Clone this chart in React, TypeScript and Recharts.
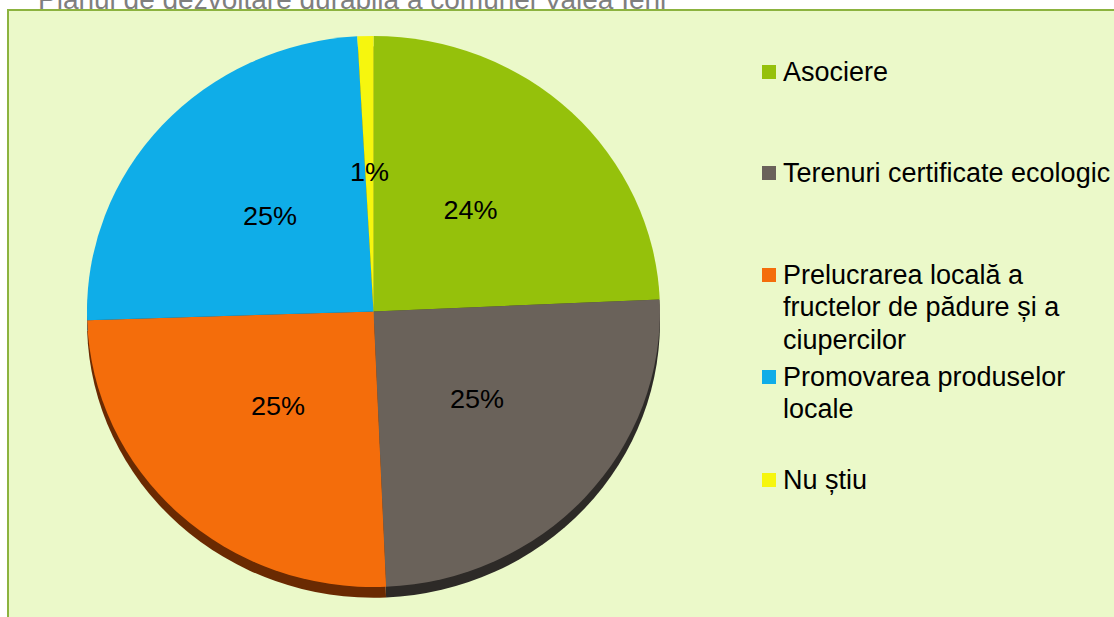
import React from 'react'
import { PieChart, Pie, Cell } from 'recharts'

const CATEGORIES = [
  'Asociere',
  'Terenuri certificate ecologic',
  'Prelucrarea locală a fructelor de pădure și a ciupercilor',
  'Promovarea produselor locale',
  'Nu știu',
]
// shares (labels show them rounded)
const VALUES = [24.3, 25.0, 25.2, 24.6, 0.9]
const COLORS = ['#95c10b', '#6a625a', '#f46d0b', '#0fade8', '#f6f60e']
const SHADES = ['#4a6004', '#2d2a27', '#6a2a02', '#06587a', '#7a7a06']
const LEGEND_LINES = [
  ['Asociere'],
  ['Terenuri certificate ecologic'],
  ['Prelucrarea locală a', 'fructelor de pădure și a', 'ciupercilor'],
  ['Promovarea produselor', 'locale'],
  ['Nu știu'],
]
const TITLE = 'Planul de dezvoltare durabilă a comunei Valea Ieni'

// layout: first-line centre of each legend entry
const LEGEND_TOPS = [72, 173, 275, 377, 480]
const LINE_H = 32.5

const RAD = Math.PI / 180
const CX = 373.5
const CY = 311.5
const R = 286.5
const SQUASH = 0.962

const data = CATEGORIES.map((name, i) => ({ name, value: VALUES[i] }))

const FONT = '"Liberation Sans", Arial, sans-serif'

function renderLabel(props: any) {
  const { cx, cy, midAngle, outerRadius, percent } = props
  const r = outerRadius * 0.49
  const x = cx + r * Math.cos(-midAngle * RAD)
  const y = cy + r * Math.sin(-midAngle * RAD) - 4
  return (
    <text
      x={x}
      y={y}
      textAnchor="middle"
      dominantBaseline="central"
      fontSize={27}
      fontFamily={FONT}
      fill="#000"
    >
      {`${Math.round(percent * 100)}%`}
    </text>
  )
}

export default function App() {
  return (
    <div
      style={{
        position: 'absolute',
        left: 0,
        top: 0,
        width: 1114,
        height: 617,
        overflow: 'hidden',
        background: '#ffffff',
        fontFamily: FONT,
      }}
    >
      <div
        style={{
          position: 'absolute',
          left: 38,
          top: -14.5,
          fontSize: 28,
          lineHeight: '28px',
          color: '#7f7f7f',
          whiteSpace: 'nowrap',
        }}
      >
        {TITLE}
      </div>
      <div
        style={{
          position: 'absolute',
          left: 7,
          top: 9,
          width: 1200,
          height: 700,
          border: '2px solid #8cb33f',
          background: '#ebf9c9',
        }}
      />
      <div
        style={{
          position: 'absolute',
          left: 0,
          top: 0,
          transform: `scaleY(${SQUASH})`,
          transformOrigin: `${CX}px ${CY}px`,
        }}
      >
        <PieChart width={760} height={617} margin={{ top: 0, right: 0, bottom: 0, left: 0 }}>
          <Pie
            data={data}
            dataKey="value"
            cx={CX}
            cy={CY + 11}
            outerRadius={R}
            startAngle={90}
            endAngle={-270}
            stroke="none"
            isAnimationActive={false}
          >
            {data.map((d, i) => (
              <Cell key={d.name} fill={SHADES[i]} />
            ))}
          </Pie>
          <Pie
            data={data}
            dataKey="value"
            cx={CX}
            cy={CY}
            outerRadius={R}
            startAngle={90}
            endAngle={-270}
            stroke="none"
            label={renderLabel}
            labelLine={false}
            isAnimationActive={false}
          >
            {data.map((d, i) => (
              <Cell key={d.name} fill={COLORS[i]} />
            ))}
          </Pie>
        </PieChart>
      </div>
      {LEGEND_LINES.map((lines, i) => (
        <div
          key={CATEGORIES[i]}
          style={{
            position: 'absolute',
            left: 762,
            top: LEGEND_TOPS[i] - LINE_H / 2,
            display: 'flex',
            alignItems: 'flex-start',
          }}
        >
          <span
            style={{
              width: 14,
              height: 14,
              marginTop: (LINE_H - 14) / 2,
              background: COLORS[i],
              marginRight: 7,
              flex: 'none',
            }}
          />
          <div style={{ fontSize: 27, lineHeight: `${LINE_H}px`, color: '#000' }}>
            {lines.map((l) => (
              <div key={l} style={{ whiteSpace: 'pre' }}>
                {l}
              </div>
            ))}
          </div>
        </div>
      ))}
    </div>
  )
}
